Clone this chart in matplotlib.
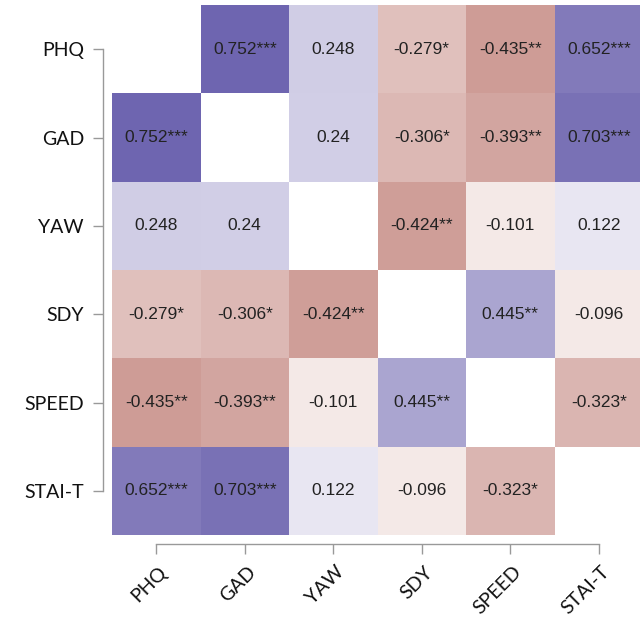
import numpy as np
import matplotlib
matplotlib.use("Agg")
import matplotlib.pyplot as plt
from matplotlib.colors import LinearSegmentedColormap
import matplotlib.transforms as mtransforms

labels = ["PHQ", "GAD", "YAW", "SDY", "SPEED", "STAI-T"]
corr = np.array([
    [np.nan, 0.752, 0.248, -0.279, -0.435, 0.652],
    [0.752, np.nan, 0.240, -0.306, -0.393, 0.703],
    [0.248, 0.240, np.nan, -0.424, -0.101, 0.122],
    [-0.279, -0.306, -0.424, np.nan, 0.445, -0.096],
    [-0.435, -0.393, -0.101, 0.445, np.nan, -0.323],
    [0.652, 0.703, 0.122, -0.096, -0.323, np.nan],
])
stars = [
    ["", "***", "", "*", "**", "***"],
    ["***", "", "", "*", "**", "***"],
    ["", "", "", "**", "", ""],
    ["*", "*", "**", "", "**", ""],
    ["**", "**", "", "**", "", "*"],
    ["***", "***", "", "", "*", ""],
]
value_text = [
    ["", "0.752", "0.248", "-0.279", "-0.435", "0.652"],
    ["0.752", "", "0.24", "-0.306", "-0.393", "0.703"],
    ["0.248", "0.24", "", "-0.424", "-0.101", "0.122"],
    ["-0.279", "-0.306", "-0.424", "", "0.445", "-0.096"],
    ["-0.435", "-0.393", "-0.101", "0.445", "", "-0.323"],
    ["0.652", "0.703", "0.122", "-0.096", "-0.323", ""],
]

cmap = LinearSegmentedColormap.from_list(
    "rp", [(0.0, "#8e1b0e"), (0.5, "#ffffff"), (1.0, "#403496")])
cmap.set_bad("white")

fig = plt.figure(figsize=(6.4, 6.23), dpi=100)
W, H = 640, 623
x0, x1, y0, y1 = 112, 643, 5, 535
ax = fig.add_axes([x0 / W, 1 - y1 / H, (x1 - x0) / W, (y1 - y0) / H])

n = len(labels)
ax.pcolormesh(np.arange(n + 1) - 0.5, np.arange(n + 1) - 0.5,
              np.ma.masked_invalid(corr), cmap=cmap, vmin=-1, vmax=1)
ax.set_xlim(-0.5, n - 0.5)
ax.set_ylim(n - 0.5, -0.5)

for i in range(n):
    for j in range(n):
        if value_text[i][j]:
            ax.text(j, i, value_text[i][j] + stars[i][j], ha="center", va="center",
                    fontsize=12.5, color="#222222", family="Liberation Sans")

for s in ["top", "right"]:
    ax.spines[s].set_visible(False)
for s in ["left", "bottom"]:
    ax.spines[s].set_position(("outward", 9 * 0.72))
    ax.spines[s].set_color("#999999")
    ax.spines[s].set_linewidth(1.0)
ax.spines["left"].set_bounds(0, n - 1)
ax.spines["bottom"].set_bounds(0, n - 1)
ax.tick_params(axis="both", length=7.2, width=1.0, color="#999999")
ax.tick_params(axis="y", pad=6.5)
ax.tick_params(axis="x", pad=6)

ax.set_xticks(range(n))
ax.set_yticks(range(n))
ax.set_yticklabels(labels, fontsize=14, family="Lato", color="#111111")
ax.set_xticklabels(labels, fontsize=14, family="Lato", color="#111111",
                   rotation=45, ha="right", va="top", rotation_mode="anchor")
offset = mtransforms.ScaledTranslation(2 / 100, -1 / 100, fig.dpi_scale_trans)
for lab in ax.get_xticklabels():
    lab.set_transform(lab.get_transform() + offset)

fig.savefig("out.png", dpi=100)
